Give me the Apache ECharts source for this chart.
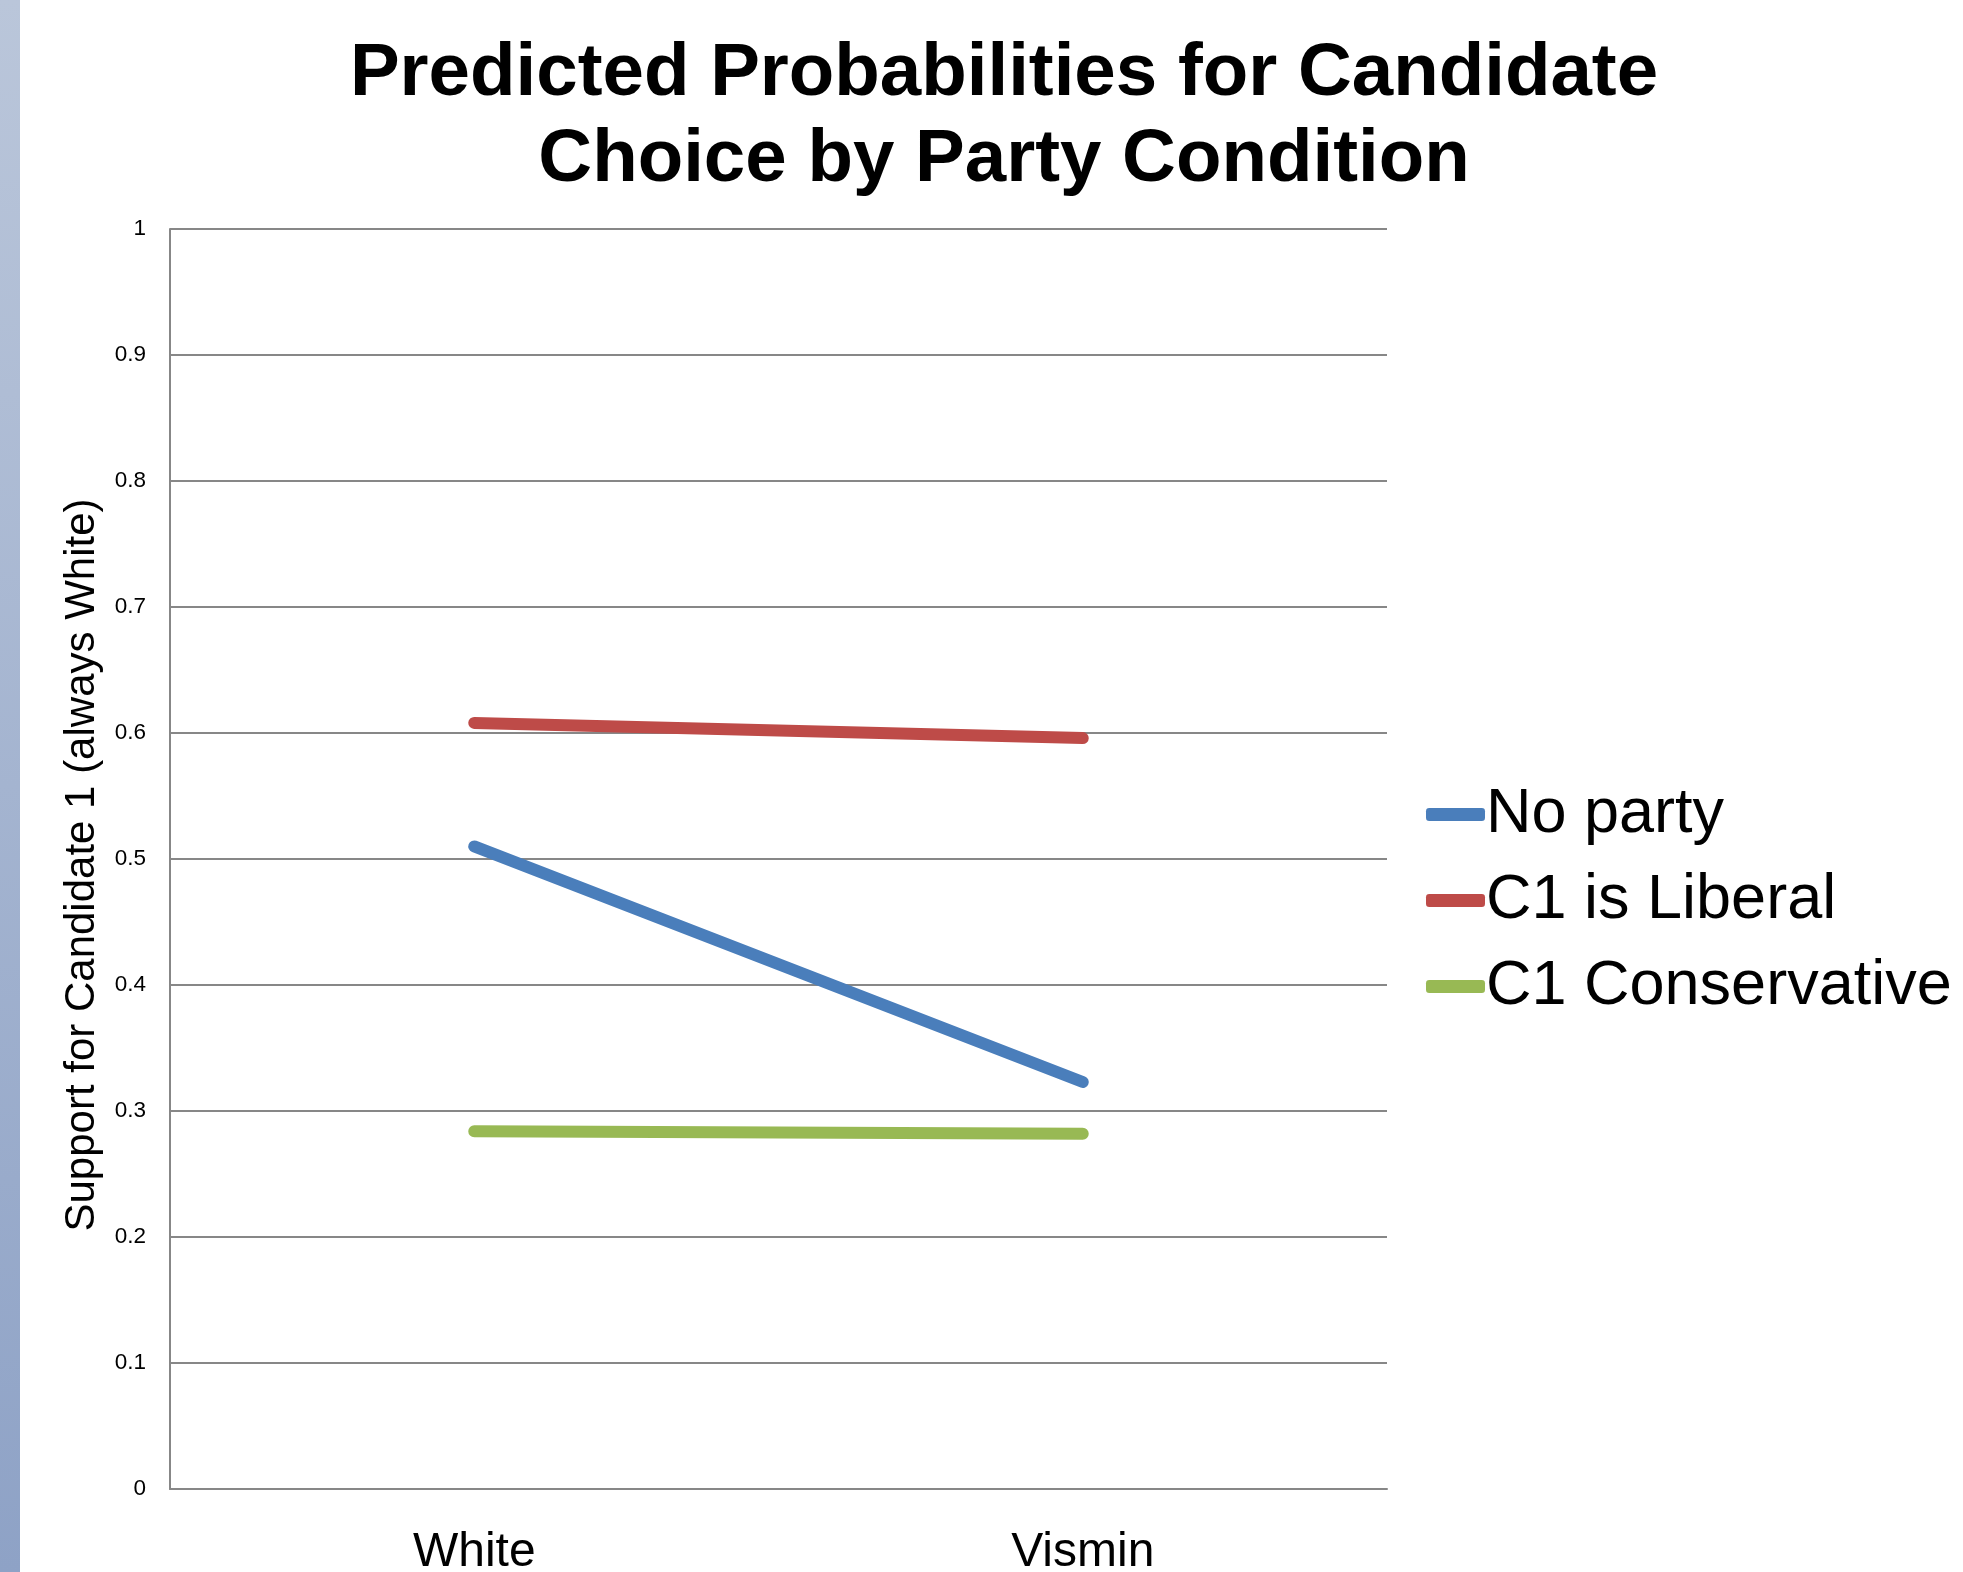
<!DOCTYPE html>
<html>
<head>
<meta charset="utf-8">
<script src="https://cdn.jsdelivr.net/npm/echarts@6/dist/echarts.min.js"></script>
<style>
html,body{margin:0;padding:0;background:#fff;}
#chart{width:1963px;height:1572px;}
</style>
</head>
<body>
<div id="chart"></div>
<script>
const titleText = 'Predicted Probabilities for Candidate\nChoice by Party Condition';
const yAxisName = 'Support for Candidate 1 (always White)';
const categories = ['White', 'Vismin'];
const noParty = [0.510, 0.323];
const c1Liberal = [0.608, 0.596];
const c1Conservative = [0.284, 0.282];
const seriesNames = ['No party', 'C1 is Liberal', 'C1 Conservative'];
const seriesColors = ['#4a7ebb', '#be4b48', '#98b954'];
const yTicks = [0, 0.1, 0.2, 0.3, 0.4, 0.5, 0.6, 0.7, 0.8, 0.9, 1];

const seriesData = [noParty, c1Liberal, c1Conservative];
const FONT = '"Liberation Sans", Arial, sans-serif';

const chart = echarts.init(document.getElementById('chart'), null, {renderer: 'canvas'});
chart.setOption({
  animation: false,
  backgroundColor: '#ffffff',
  textStyle: {fontFamily: FONT},
  title: {
    text: titleText,
    left: 999,
    textAlign: 'center',
    top: 26,
    textStyle: {fontFamily: FONT, fontWeight: 'bold', fontSize: 74.5, lineHeight: 86, color: '#000'}
  },
  graphic: [{
    type: 'rect',
    left: 0, top: 0,
    shape: {width: 20, height: 1572},
    style: {fill: new echarts.graphic.LinearGradient(0, 0, 0, 1, [
      {offset: 0, color: '#bac6da'}, {offset: 1, color: '#8ea2c6'}
    ])},
    silent: true
  }],
  legend: {
    orient: 'vertical',
    left: 1421,
    top: 778,
    itemWidth: 59,
    itemHeight: 13,
    itemGap: 23,
    icon: 'roundRect',
    textStyle: {fontFamily: FONT, fontSize: 63, lineHeight: 63, color: '#000', padding: [0, 0, 0, -4]},
    data: seriesNames
  },
  grid: {left: 170, right: 1963 - 1387, top: 229, bottom: 1572 - 1489, containLabel: false, outerBoundsMode: 'none'},
  xAxis: {
    type: 'category',
    data: categories,
    boundaryGap: true,
    axisLine: {lineStyle: {color: '#878787', width: 2}},
    axisTick: {show: false},
    axisLabel: {fontFamily: FONT, fontSize: 48, color: '#000', margin: 40},
    splitLine: {show: false}
  },
  yAxis: {
    type: 'value',
    min: 0, max: 1, interval: 0.1,
    name: yAxisName,
    nameLocation: 'middle',
    nameRotate: 90,
    nameGap: 67,
    nameTextStyle: {fontFamily: FONT, fontSize: 42, color: '#000', padding: [0, 12, 0, 0]},
    axisLine: {show: true, lineStyle: {color: '#878787', width: 2}},
    axisTick: {show: false},
    axisLabel: {fontFamily: FONT, fontSize: 22.5, color: '#000', margin: 24,
      formatter: function (v) { const t = yTicks.find(x => Math.abs(x - v) < 1e-9); return t === undefined ? '' : String(t); }},
    splitLine: {show: true, lineStyle: {color: '#878787', width: 2}}
  },
  series: seriesData.map((d, i) => ({
    name: seriesNames[i],
    type: 'line',
    data: d,
    color: seriesColors[i],
    showSymbol: false,
    symbol: 'none',
    lineStyle: {width: 12, color: seriesColors[i], cap: 'round'},
    itemStyle: {color: seriesColors[i]}
  }))
});
</script>
</body>
</html>
